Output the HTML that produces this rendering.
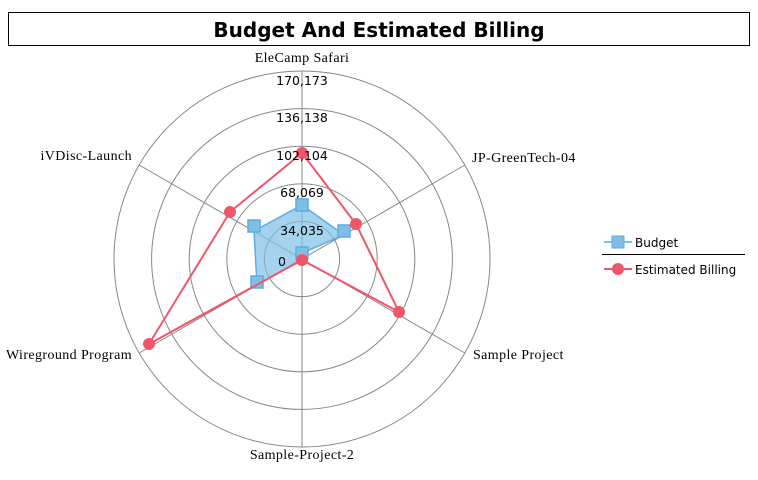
<!DOCTYPE html>
<html><head><meta charset="utf-8"><style>
body{margin:0;background:#fff;width:758px;height:475px;overflow:hidden}
</style></head><body>
<svg width="758" height="475" xmlns="http://www.w3.org/2000/svg">
<rect x="8.5" y="12.5" width="741" height="33" fill="#fff" stroke="#000"/>
<text x="379" y="37" text-anchor="middle" font-family="DejaVu Sans, sans-serif" font-weight="bold" font-size="20">Budget And Estimated Billing</text>
<g fill="none" stroke="#888" stroke-width="1">
<circle cx="302" cy="259" r="37.6"/><circle cx="302" cy="259" r="75.2"/><circle cx="302" cy="259" r="112.8"/><circle cx="302" cy="259" r="150.4"/><circle cx="302" cy="259" r="188"/>
<line x1="302" y1="259" x2="302" y2="71"/>
<line x1="302" y1="259" x2="464.8" y2="165"/>
<line x1="302" y1="259" x2="464.8" y2="353"/>
<line x1="302" y1="259" x2="302" y2="447"/>
<line x1="302" y1="259" x2="139.2" y2="353"/>
<line x1="302" y1="259" x2="139.2" y2="165"/>
</g>
<polygon points="302,205 344,235 302,253 302,259 257,285 254,231" fill="#7fbfe6" fill-opacity="0.7" stroke="#5aaee0" stroke-width="1.5"/>
<g fill="#7fbfe6" stroke="#5aaee0" stroke-width="1.5">
<rect x="296" y="199" width="12" height="12"/><rect x="338" y="225" width="12" height="12"/><rect x="296" y="247" width="12" height="12"/><rect x="251" y="276" width="12" height="12"/><rect x="248" y="220" width="12" height="12"/>
</g>
<polygon points="302,153 356,224 399,312 302,260 149,344 230,212" fill="none" stroke="#f0566a" stroke-width="2"/>
<g fill="#f0566a">
<circle cx="302" cy="153" r="6"/><circle cx="356" cy="224" r="6"/><circle cx="399" cy="312" r="6"/><circle cx="302" cy="260" r="6"/><circle cx="149" cy="344" r="6"/><circle cx="230" cy="212" r="6"/>
</g>
<g font-family="DejaVu Sans, sans-serif" font-size="12.5" text-anchor="middle" fill="#000">
<text x="302" y="85">170,173</text><text x="302" y="122">136,138</text><text x="302" y="160">102,104</text><text x="302" y="197">68,069</text><text x="302" y="235">34,035</text><text x="282" y="266">0</text>
</g>
<g font-family="Liberation Serif, serif" font-size="14" letter-spacing="0.4" fill="#000">
<text x="302" y="62" text-anchor="middle">EleCamp Safari</text>
<text x="472" y="162">JP-GreenTech-04</text>
<text x="473" y="359">Sample Project</text>
<text x="302" y="459" text-anchor="middle">Sample-Project-2</text>
<text x="132" y="359" text-anchor="end">Wireground Program</text>
<text x="132" y="160" text-anchor="end">iVDisc-Launch</text>
</g>
<line x1="604" y1="242" x2="632" y2="242" stroke="#7fbfe6" stroke-width="2"/>
<rect x="612" y="236" width="12" height="12" fill="#7fbfe6" stroke="#5aaee0"/>
<text x="635" y="247" font-family="DejaVu Sans, sans-serif" font-size="12">Budget</text>
<line x1="602" y1="254.5" x2="745" y2="254.5" stroke="#000"/>
<line x1="604" y1="269" x2="632" y2="269" stroke="#f0566a" stroke-width="2"/>
<circle cx="618" cy="269" r="6" fill="#f0566a"/>
<text x="635" y="274" font-family="DejaVu Sans, sans-serif" font-size="12">Estimated Billing</text>
</svg>
</body></html>
